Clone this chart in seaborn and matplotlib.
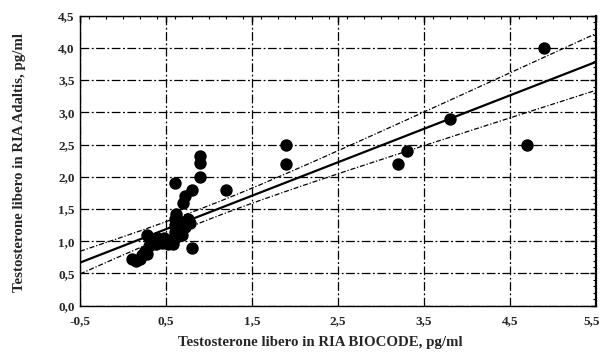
import numpy as np
import pandas as pd
import matplotlib
matplotlib.use("Agg")
import matplotlib.pyplot as plt
import matplotlib.transforms as mtransforms
from matplotlib.ticker import FixedLocator, MultipleLocator, FuncFormatter
import seaborn as sns

# Free testosterone measured with two RIA kits (pg/ml)
biocode = [0.10, 0.15, 0.20, 0.22, 0.25, 0.28, 0.30, 0.30, 0.28, 0.35,
           0.38, 0.40, 0.42, 0.45, 0.48, 0.50, 0.52, 0.55, 0.58, 0.60,
           0.60, 0.60, 0.60, 0.62, 0.65, 0.68, 0.70, 0.72, 0.75, 0.78,
           0.70, 0.72, 0.80, 0.80, 0.60, 0.90, 0.90, 0.90,
           1.20, 1.90, 1.90, 3.20, 3.30, 3.80, 4.70, 4.90]
adaltis = [0.72, 0.70, 0.72, 0.78, 0.85, 0.80, 0.92, 1.05, 1.10, 1.00,
           0.95, 1.05, 1.00, 0.98, 1.05, 1.00, 0.95, 1.00, 0.95, 1.05,
           1.15, 1.25, 1.35, 1.42, 1.20, 1.10, 1.30, 1.22, 1.35, 1.28,
           1.60, 1.70, 1.80, 0.90, 1.90, 2.00, 2.22, 2.32,
           1.80, 2.20, 2.50, 2.20, 2.40, 2.90, 2.50, 4.00]

x_ticks = [-0.5, 0.5, 1.5, 2.5, 3.5, 4.5, 5.5]
y_ticks = [0.0, 0.5, 1.0, 1.5, 2.0, 2.5, 3.0, 3.5, 4.0, 4.5]

x_label = "Testosterone libero in RIA BIOCODE, pg/ml"
y_label = "Testosterone libero in RIA Adaltis, pg/ml"

df = pd.DataFrame({"biocode": biocode, "adaltis": adaltis})

sns.set_theme(style="white")
plt.rcParams["font.family"] = ["Liberation Serif", "DejaVu Serif"]
plt.rcParams["font.weight"] = "bold"

fig = plt.figure(figsize=(6.02, 3.53), dpi=100)
ax = fig.add_axes([0.133, 0.134, 0.857, 0.8215])

# linear fit with 95% confidence band for the mean
x = df["biocode"].to_numpy()
y = df["adaltis"].to_numpy()
n = len(x)
slope, intercept = np.polyfit(x, y, 1)
resid = y - (intercept + slope * x)
s = np.sqrt(np.sum(resid ** 2) / (n - 2))
sxx = np.sum((x - x.mean()) ** 2)
t = 2.015
xs = np.linspace(x_ticks[0], x_ticks[-1], 200)
fit = intercept + slope * xs
half = t * s * np.sqrt(1.0 / n + (xs - x.mean()) ** 2 / sxx)

ax.plot(xs, fit, color="black", lw=1.6, zorder=3)
ax.plot(xs, fit + half, color="black", lw=0.9, dashes=(4, 1.5, 1, 1.5), zorder=3)
ax.plot(xs, fit - half, color="black", lw=0.9, dashes=(4, 1.5, 1, 1.5), zorder=3)

sns.scatterplot(data=df, x="biocode", y="adaltis", ax=ax, color="black",
                s=80, edgecolor="black", linewidth=0, zorder=4)

ax.set_xlim(x_ticks[0], x_ticks[-1])
ax.set_ylim(y_ticks[0], y_ticks[-1])
ax.xaxis.set_major_locator(FixedLocator(x_ticks))
ax.yaxis.set_major_locator(FixedLocator(y_ticks))
ax.xaxis.set_minor_locator(MultipleLocator(0.2))
ax.yaxis.set_minor_locator(MultipleLocator(0.1))
comma = FuncFormatter(lambda v, p: f"{v:.1f}".replace(".", ","))
ax.xaxis.set_major_formatter(comma)
ax.yaxis.set_major_formatter(comma)

ax.grid(True, which="major", color="black", lw=0.9, dashes=(7, 2, 1.5, 2))
ax.tick_params(which="major", direction="in", length=4, width=1, color="black",
               top=True, right=True, labelsize=9.5)
ax.tick_params(axis="x", which="major", pad=7)
ax.tick_params(axis="y", which="major", pad=4)
ax.tick_params(which="minor", direction="in", length=2, width=0.8, color="black",
               top=True, right=True)
for lab in ax.get_xticklabels() + ax.get_yticklabels():
    lab.set_fontweight("bold")

# keep the last x tick label inside the canvas
last = ax.get_xticklabels()[-1]
last.set_transform(last.get_transform() +
                   mtransforms.ScaledTranslation(-4 / 100, 0, fig.dpi_scale_trans))

for sp in ax.spines.values():
    sp.set_color("black")
    sp.set_linewidth(1.0)
ax.spines["right"].set_linewidth(1.6)

ax.set_xlabel(x_label, fontsize=10.7, fontweight="bold")
ax.set_ylabel(y_label, fontsize=10.7, fontweight="bold")
ax.xaxis.set_label_coords(0.465, -0.105)
ax.yaxis.set_label_coords(-0.105, 0.495)

fig.savefig("out.png", dpi=100, facecolor="white")
